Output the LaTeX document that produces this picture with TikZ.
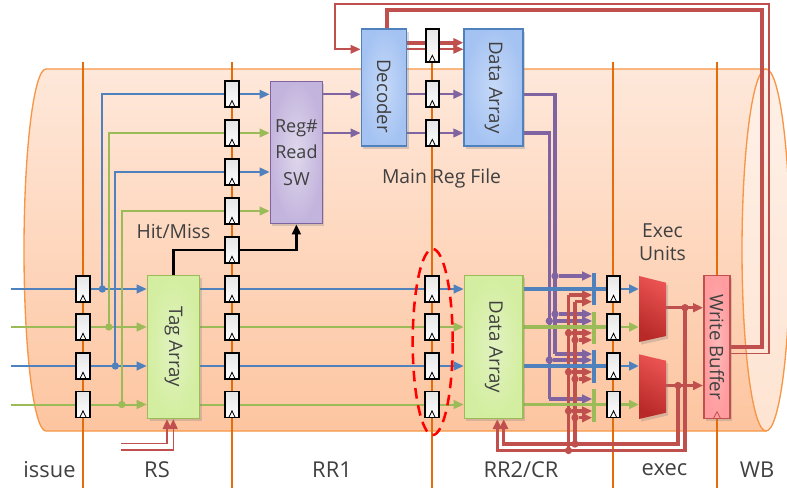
\documentclass[tikz,border=0pt]{standalone}
\usepackage{fontspec}
\setmainfont{Open Sans}
\usetikzlibrary{arrows.meta,shadows,backgrounds,shapes.geometric}
\definecolor{wireblue}{HTML}{4F81BD}
\definecolor{wiregreen}{HTML}{9BBB59}
\definecolor{wirepurple}{HTML}{8064A2}
\definecolor{wirered}{HTML}{C0504D}
\definecolor{pipeline}{HTML}{E46C0A}
\definecolor{tubeline}{HTML}{F79646}
\definecolor{labeltext}{HTML}{404040}
\definecolor{muxlight}{HTML}{EA5252}
\definecolor{muxdark}{HTML}{B72A27}
\definecolor{greenin}{HTML}{E1F2C0}
\definecolor{greenout}{HTML}{D3EEA0}
\definecolor{bluein}{HTML}{C6D9F8}
\definecolor{blueout}{HTML}{A5C3F2}
\definecolor{purplein}{HTML}{DFD8EC}
\definecolor{purpleout}{HTML}{C3B4DD}
\definecolor{pinkin}{HTML}{FFB8B8}
\definecolor{pinkout}{HTML}{FF9C9F}
\definecolor{tubetop}{HTML}{FEE8DA}
\definecolor{tubebot}{HTML}{FDC5A0}
\definecolor{endtop}{HTML}{FEF0E7}
\definecolor{endbot}{HTML}{FEE4D2}
\tikzstyle{regbox}=[draw=black,top color=black!10,bottom color=white,line width=1.3pt,minimum width=10pt,minimum height=19.5pt,inner sep=0pt,
  path picture={\draw[black,line width=.6pt] ([xshift=-2.4pt]path picture bounding box.south) -- ([yshift=5pt]path picture bounding box.south) -- ([xshift=2.4pt]path picture bounding box.south);}]
\tikzstyle{blockbox}=[line width=1.2pt,inner sep=0pt,text=labeltext,font=\fontsize{14}{15}\selectfont,drop shadow={shadow xshift=1.5pt,shadow yshift=-2pt,opacity=.3}]
\tikzstyle{greenbox}=[blockbox,draw=wiregreen,inner color=greenin,outer color=greenout]
\tikzstyle{bluebox}=[blockbox,draw=wireblue,inner color=bluein,outer color=blueout]
\tikzstyle{purplebox}=[blockbox,draw=wirepurple,inner color=purplein,outer color=purpleout]
\tikzstyle{pinkbox}=[blockbox,draw=wirered,inner color=pinkin,outer color=pinkout,
  path picture={\draw[wirered,line width=.6pt] ([xshift=-2.6pt]path picture bounding box.south) -- ([yshift=5pt]path picture bounding box.south) -- ([xshift=2.6pt]path picture bounding box.south);}]
\tikzstyle{muxfill}=[top color=muxlight,bottom color=muxdark,shading angle=-30,drop shadow={shadow xshift=1.5pt,shadow yshift=-2pt,opacity=.3}]
\tikzstyle{tapdot}=[circle,inner sep=0pt,minimum size=5.5pt]
\tikzstyle{barbox}=[minimum width=2.4pt,minimum height=24.4pt,inner sep=0pt]
\tikzstyle{bluewire}=[draw=wireblue,line width=1.5pt]
\tikzstyle{greenwire}=[draw=wiregreen,line width=1.5pt]
\tikzstyle{purplewire}=[draw=wirepurple,line width=1.4pt]
\tikzstyle{purplebus}=[draw=wirepurple,line width=2.6pt]
\tikzstyle{redbus}=[draw=wirered,line width=2.4pt]
\tikzstyle{redthick}=[draw=wirered,line width=3pt]
\tikzstyle{redthin}=[draw=wirered,line width=1.2pt]
\tikzstyle{pipelabel}=[text=labeltext,inner sep=0pt,font=\fontsize{16.4}{19}\selectfont]
\tikzstyle{blocklabel}=[text=labeltext,inner sep=0pt,font=\fontsize{14.5}{17.5}\selectfont,align=center]

\begin{document}
\begin{tikzpicture}[x=0.75pt,y=-0.75pt,>={Triangle[length=7.5pt,width=6.5pt]}]
    \useasboundingbox (0,0) rectangle (787,488);

    \node[greenbox,minimum width=39pt,minimum height=107pt] (tag) at (173.5,347) {\rotatebox{-90}{Tag Array}};
    \node[purplebox,minimum width=39pt,minimum height=106.5pt,align=center,font=\fontsize{13.5}{20}\selectfont] (regsw) at (296.4,152.5) {Reg\#\\Read\\SW};
    \node[bluebox,minimum width=34pt,minimum height=87.75pt] (decoder) at (384,87.5) {\rotatebox{-90}{\hspace{12.8pt}Decoder}};
    \node[bluebox,minimum width=44pt,minimum height=87.75pt] (datatop) at (493.5,87.5) {\rotatebox{-90}{Data Array}};
    \node[greenbox,minimum width=44pt,minimum height=107pt] (databot) at (493.8,347) {\rotatebox{-90}{Data Array}};
    \node[pinkbox,minimum width=19.7pt,minimum height=107pt] (wbuf) at (717,347) {\rotatebox{-90}{Write Buffer}};
    \path[muxfill] (639,276) -- (666,282.7) -- (666,336) -- (639,342) -- cycle;
    \path[muxfill] (639,354.3) -- (666,360.7) -- (666,412.7) -- (639,419) -- cycle;
    \coordinate (muxa) at (639,309);
    \coordinate (muxb) at (639,386.5);
    \coordinate (muxaout) at (666,307.7);
    \coordinate (muxbout) at (666,385.5);

    \foreach \col/\xx in {iss/83,rra/232,rrb/432,exe/613.5}
      \foreach \row/\yy in {a/289,b/327,c/366,d/404.5}
        \node[regbox] (\col\row) at (\xx,\yy) {};
    \foreach \row/\yy in {e/94.3,f/133,g/172,h/211,m/250}
      \node[regbox] (rra\row) at (232,\yy) {};
    \node[regbox,minimum height=24.7pt] (rrbt) at (432.3,45.5) {};
    \node[regbox] (rrbe) at (432.3,94.3) {};
    \node[regbox] (rrbf) at (432.3,133) {};

    \node[barbox,fill=wireblue] (bara) at (594,289) {};
    \node[barbox,fill=wiregreen] (barb) at (594,328) {};
    \node[barbox,fill=wireblue] (barc) at (594,366.3) {};
    \node[barbox,fill=wiregreen] (bard) at (594,405.5) {};

    \node[tapdot,fill=wireblue] (tapa) at (102.3,289) {};
    \node[tapdot,fill=wiregreen] (tapb) at (108.8,327) {};
    \node[tapdot,fill=wireblue] (tapc) at (115.3,366) {};
    \node[tapdot,fill=wiregreen] (tapd) at (121.8,404.5) {};

    \node[tapdot,fill=wirepurple] (pura) at (555,276) {};
    \node[tapdot,fill=wirepurple] (purb) at (555,314) {};
    \node[tapdot,fill=wirepurple] (purc) at (549.3,321) {};
    \coordinate (purd) at (555,354);
    \node[tapdot,fill=wirepurple] (pure) at (549.3,360) {};
    \coordinate (purf) at (549.3,399);

    \coordinate (reda) at (568.5,295);
    \coordinate (redb) at (575,301.7);
    \node[tapdot,fill=wirered] (redc) at (568.5,333) {};
    \node[tapdot,fill=wirered] (redd) at (575,340) {};
    \node[tapdot,fill=wirered] (rede) at (568.5,372) {};
    \node[tapdot,fill=wirered] (redf) at (575,379) {};
    \node[tapdot,fill=wirered] (redg) at (568.5,411) {};
    \node[tapdot,fill=wirered] (redh) at (575,417.7) {};
    \node[tapdot,fill=wirered] (redfoot) at (568.5,450.5) {};
    \node[tapdot,fill=wirered] (redknee) at (575,444) {};
    \node[tapdot,fill=wirered] (outa) at (685,307.7) {};
    \node[tapdot,fill=wirered] (outb) at (678,385.5) {};
    \coordinate (feeda) at (497.3,450.5);
    \coordinate (feedb) at (503.7,444);

    \coordinate (ina) at (11,289);
    \coordinate (inb) at (11,327);
    \coordinate (inc) at (11,366);
    \coordinate (ind) at (11,404.5);
    \coordinate (rsa) at (121,443.5);
    \coordinate (rsb) at (121,450);
    \coordinate (rsfa) at (167,443.5);
    \coordinate (rsfb) at (173.3,450);
    \coordinate (wbq) at (730,346.7);
    \coordinate (wbr) at (730,353.3);
    \coordinate (fba) at (762.3,10.3);
    \coordinate (fbc) at (386.7,42.7);
    \coordinate (fbd) at (768.7,4);
    \coordinate (fbe) at (335,49.3);

    \node[pipelabel] (lblissue) at (49.5,470) {issue};
    \node[pipelabel] (lblrs) at (157,470) {RS};
    \node[pipelabel] (lblrra) at (332,470) {RR1};
    \node[pipelabel] (lblrrb) at (521,470) {RR2/CR};
    \node[pipelabel] (lblexec) at (664.5,470) {exec};
    \node[pipelabel] (lblwb) at (757,470) {WB};
    \node[blocklabel] (lblmain) at (441.5,178) {Main Reg File};
    \node[blocklabel] (lblhit) at (173.5,231) {Hit/Miss};
    \node[blocklabel] (lblunits) at (662.5,242.5) {Exec\\Units};
    \node[draw=red,dash pattern=on 8pt off 5pt,line width=1.9pt,ellipse,minimum width=30pt,minimum height=139.5pt,inner sep=0pt] (regring) at (432.7,342) {};

    \begin{scope}[on background layer]
    \path[shade,top color=tubetop,bottom color=tubebot,draw=tubeline,line width=1pt] (766,69) -- (46,69)
      arc[start angle=90,end angle=270,x radius=16.5pt,y radius=135.75pt] -- (766,431) -- cycle;
    \path[shade,top color=endtop,bottom color=endbot,draw=tubeline,line width=1pt] (766,250) ellipse[x radius=18pt,y radius=135.75pt];

    \foreach \xx in {83,232,432.3,612.9,717}
      \draw[pipeline,line width=1.4pt] (\xx,62) -- (\xx,488);

    \foreach \r/\u/\m/\w in {a/e/muxa/bluewire,b/f/muxa/greenwire,c/g/muxb/bluewire,d/h/muxb/greenwire} {
      \draw[\w] (in\r) -- (iss\r);
      \draw[\w,->] (iss\r) -- (iss\r -| tag.west);
      \draw[\w] (iss\r -| tag.east) -- (rra\r);
      \draw[\w,->] (rra\r) -- (rra\r -| databot.west);
      \draw[\w,->] (tap\r.center) |- (rra\u.center) -- (rra\u -| regsw.west);
      \draw[\w,line width=2.2pt,->] (exe\r) -- (exe\r -| \m);
    }

    \draw[line width=1.7pt,->] (tag.north) |- (rram.center) -- (rram -| regsw.south) -- (regsw.south);

    \foreach \u in {e,f} {
      \draw[purplewire,->] (rra\u -| regsw.east) -- (rra\u -| decoder.west);
      \draw[purplewire,->] (rra\u -| decoder.east) -- (rra\u -| datatop.west);
    }
    \draw[purplebus] (rrae -| datatop.east) -| (purd);
    \draw[purplebus] (rraf -| datatop.east) -| (purf);
    \foreach \from/\to in {pura/bara,purb/barb,purc/barb,purd/barc,pure/barc,purf/bard}
      \draw[purplebus,->] (\from) -- (\from -| \to.west);

    \draw[redbus] (redfoot.center) -- (reda);
    \draw[redbus] (redknee.center) -- (redb);
    \foreach \from/\to in {reda/bara,redb/bara,redc/barb,redd/barb,rede/barc,redf/barc,redg/bard,redh/bard}
      \draw[redbus,->] (\from) -- (\from -| \to.west);
    \draw[redbus,->] (outa.center) |- (feeda) -- (feeda |- databot.south);
    \draw[redbus,->] (outb.center) |- (feedb) -- (feedb |- databot.south);
    \draw[redbus,->] (muxaout) -- (muxaout -| wbuf.west);
    \draw[redbus,->] (muxbout) -- (muxbout -| wbuf.west);

    \foreach \r/\w in {a/bluewire,b/greenwire,c/bluewire,d/greenwire}
      \draw[\w,line width=2.6pt] (exe\r -| databot.east) -- (exe\r);

    \draw[redthin,->] (rsa) -- (rsfa) -- (rsfa |- tag.south);
    \draw[redthin,->] (rsb) -- (rsfb) -- (rsfb |- tag.south);
    \draw[redthick,->] (wbq) -| (fba) -| (fbc) -- (fbc -| datatop.west);
    \draw[redthin,->] (wbr) -| (fbd) -| (fbe) -- (fbe -| decoder.west);
    \draw[redthin,->] (fbe -| decoder.east) -- (fbe -| datatop.west);
    \end{scope}
\end{tikzpicture}
\end{document}
